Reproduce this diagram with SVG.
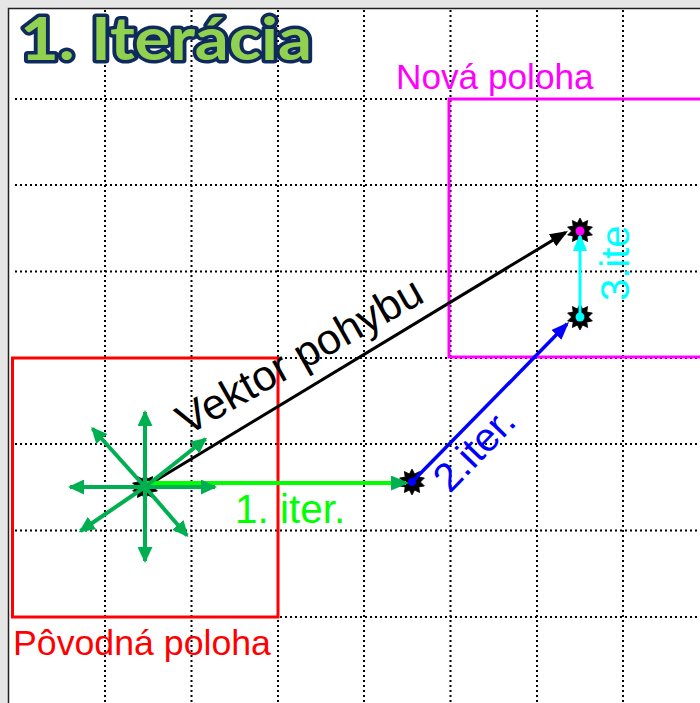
<svg xmlns="http://www.w3.org/2000/svg" width="700" height="703" viewBox="0 0 700 703">
<style>
.grid{stroke:#000;stroke-width:2;stroke-dasharray:2 3;fill:none}
.lbl{font-family:"Liberation Sans",Arial,sans-serif}
.g8{stroke:#00b050;stroke-width:4;fill:none;marker-end:url(#mG8)}
</style>
<defs>
<marker id="mK" markerUnits="userSpaceOnUse" markerWidth="18" markerHeight="14" refX="15" refY="7" orient="auto"><path d="M0,0 L18,7 L0,14 z" fill="#000"/></marker>
<marker id="mB" markerUnits="userSpaceOnUse" markerWidth="18" markerHeight="14" refX="15" refY="7" orient="auto"><path d="M0,0 L18,7 L0,14 z" fill="#0000ff"/></marker>
<marker id="mC" markerUnits="userSpaceOnUse" markerWidth="18" markerHeight="14" refX="15" refY="7" orient="auto"><path d="M0,0 L18,7 L0,14 z" fill="#00ffff"/></marker>
<marker id="mG" markerUnits="userSpaceOnUse" markerWidth="18" markerHeight="15" refX="15" refY="7.5" orient="auto"><path d="M0,0 L18,7.5 L0,15 z" fill="#00b050"/></marker>
<marker id="mG8" markerUnits="userSpaceOnUse" markerWidth="16" markerHeight="15" refX="14" refY="7.5" orient="auto"><path d="M0,0 L16,7.5 L0,15 z" fill="#00b050"/></marker>
<path id="star" d="M0,-13 L2.6,-8 L7.6,-10.5 L6.8,-4.9 L12.4,-4 L8.4,0 L12.4,4 L6.8,4.9 L7.6,10.5 L2.6,8 L0,13 L-2.6,8 L-7.6,10.5 L-6.8,4.9 L-12.4,4 L-8.4,0 L-12.4,-4 L-6.8,-4.9 L-7.6,-10.5 L-2.6,-8 z" fill="#000" stroke="#000" stroke-width="0.8"/>
</defs>
<rect x="0" y="0" width="700" height="703" fill="#e6e6e6"/>
<rect x="8.5" y="8.5" width="700" height="700" fill="#fff" stroke="#222" stroke-width="1.5"/>
<g id="grid">
<path class="grid" d="M105,10V703 M191.5,10V703 M278,10V703 M364,10V703 M450.5,10V703 M537,10V703 M623,10V703 M15,99H700 M15,185H700 M15,271.5H700 M15,358H700 M15,444H700 M15,530.5H700 M15,617H700"/>
</g>
<g id="title">
<text x="20" y="60" font-family="Lato,'Open Sans',sans-serif" font-weight="bold" font-size="60" fill="#92d050" stroke="#0f2a5c" stroke-width="7" stroke-linejoin="round" paint-order="stroke" textLength="292" lengthAdjust="spacingAndGlyphs">1. Iterácia</text>
</g>
<g id="povodna">
<rect x="12.5" y="358" width="265.5" height="259" fill="none" stroke="#ff0000" stroke-width="3"/>
<text class="lbl" x="13" y="655" font-size="35.7" fill="#ff0000">Pôvodná poloha</text>
</g>
<g id="nova">
<rect x="449" y="99" width="260" height="258" fill="none" stroke="#ff00ff" stroke-width="3"/>
<text class="lbl" x="396" y="89" font-size="35.2" fill="#ff00ff">Nová poloha</text>
</g>
<g id="labels">
<text class="lbl" x="235" y="523" font-size="40.5" fill="#00ff00">1. iter.</text>
<text class="lbl" transform="translate(187,436) rotate(-29.5)" font-size="43" fill="#000">Vektor pohybu</text>
<text class="lbl" transform="translate(450,494) rotate(-46)" font-size="40" fill="#0000ff">2.iter.</text>
<text class="lbl" transform="translate(629,301) rotate(-90)" font-size="40" fill="#00ffff">3.ite</text>
</g>
<g id="stars">
<use href="#star" x="145" y="487"/>
<use href="#star" x="412" y="482"/>
<use href="#star" x="580" y="317"/>
<use href="#star" x="580" y="231"/>
</g>
<g id="connectors">
<line x1="145" y1="487" x2="565.4" y2="232.6" stroke="#000" stroke-width="3" marker-end="url(#mK)"/>
<line x1="145" y1="483" x2="406" y2="483" stroke="#00ff00" stroke-width="4" marker-end="url(#mG)"/>
<line x1="412" y1="482" x2="566.9" y2="324.1" stroke="#0000ff" stroke-width="3.5" marker-end="url(#mB)"/>
<line x1="580" y1="317" x2="580" y2="236" stroke="#00ffff" stroke-width="3" marker-end="url(#mC)"/>
<line class="g8" x1="145" y1="487" x2="145" y2="412"/>
<line class="g8" x1="145" y1="487" x2="145" y2="561"/>
<line class="g8" x1="145" y1="487" x2="70" y2="487"/>
<line class="g8" x1="145" y1="487" x2="215" y2="487"/>
<line class="g8" x1="145" y1="487" x2="92.5" y2="428.5"/>
<line class="g8" x1="145" y1="487" x2="80.5" y2="531"/>
<line class="g8" x1="145" y1="487" x2="205.5" y2="439"/>
<line class="g8" x1="145" y1="487" x2="187" y2="535.5"/>
</g>
<g id="dots">
<circle cx="412" cy="482" r="4" fill="#0000ff"/>
<circle cx="580" cy="317" r="4.5" fill="#00ffff"/>
<circle cx="580" cy="231" r="4.5" fill="#ff00ff"/>
</g>
</svg>
